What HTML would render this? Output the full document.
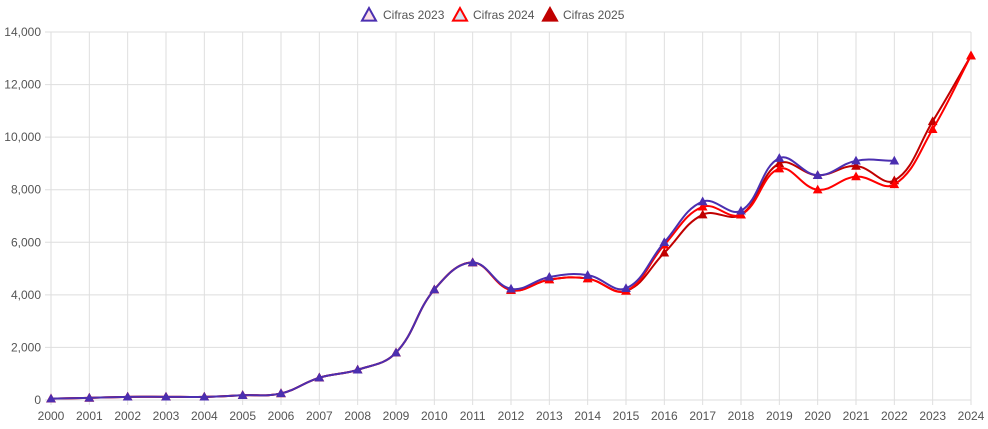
<!DOCTYPE html><html><head><style>body{margin:0;background:#fff}svg{display:block;font-family:"Liberation Sans",sans-serif}</style></head><body>
<svg id="s" width="988" height="429" xmlns="http://www.w3.org/2000/svg"></svg>
<script>
const s=document.getElementById('s');let h='';
const X=y=>51+(y-2000)*920/24,Y=v=>400-v*368/14000;
for(let i=0;i<=24;i++){const x=X(2000+i);h+=`<line x1="${x}" y1="32" x2="${x}" y2="405" stroke="#dedede"/><text x="${x}" y="420" font-size="12" fill="#555" text-anchor="middle">${2000+i}</text>`;}
for(let v=0;v<=14000;v+=2000){const y=Y(v);h+=`<line x1="45" y1="${y}" x2="971" y2="${y}" stroke="#dedede"/><text x="41" y="${y+4}" font-size="12" fill="#555" text-anchor="end">${v.toLocaleString('en-US')}</text>`;}
const base=[50,80,120,120,120,180,250,850,1150,1800,4200,5230];
const d23=base.concat([4230,4680,4750,4250,6000,7550,7200,9200,8550,9100,9100]);
const d24=base.concat([4180,4580,4620,4150,5900,7350,7050,8800,8000,8500,8200,10300,13100]);
const d25=base.concat([4180,4580,4620,4150,5600,7050,7050,9000,8550,8900,8350,10600,13100]);
function path(d){const p=d.map((v,i)=>[X(2000+i),Y(v)]);let s=`M${p[0]}`;const t=0.4;
const cp=[];for(let i=0;i<p.length;i++){const a=p[Math.max(0,i-1)],b=p[i],c=p[Math.min(p.length-1,i+1)];
const d01=Math.hypot(b[0]-a[0],b[1]-a[1]),d12=Math.hypot(c[0]-b[0],c[1]-b[1]);let fa=d01/(d01+d12)||0,fb=d12/(d01+d12)||0;fa*=t;fb*=t;
cp.push([[b[0]-fa*(c[0]-a[0]),b[1]-fa*(c[1]-a[1])],[b[0]+fb*(c[0]-a[0]),b[1]+fb*(c[1]-a[1])]]);}
for(let i=1;i<p.length;i++)s+=` C${cp[i-1][1]} ${cp[i][0]} ${p[i]}`;return [s,p];}
function tri(x,y,c,f,r,w){return `<polygon points="${x},${y-r} ${x-r},${y+r*0.8} ${x+r},${y+r*0.8}" fill="${f}" stroke="${c}" stroke-width="${w}"/>`;}
[[d25,'#c00000'],[d24,'#ff0000'],[d23,'#4b2fb0']].forEach(([d,c])=>{const [ps,p]=path(d);h+=`<path d="${ps}" fill="none" stroke="${c}" stroke-width="2"/>`;p.forEach(q=>h+=tri(q[0],q[1],c,c,4,1));});
h+=tri(369,15,'#4b2fb0','#fde0e6',7,2)+`<text x="383" y="19" font-size="12" fill="#555">Cifras 2023</text>`;
h+=tri(460,15,'#ff0000','#d6e4f0',7,2)+`<text x="473" y="19" font-size="12" fill="#555">Cifras 2024</text>`;
h+=tri(550,15,'#c00000','#c00000',7,2)+`<text x="563" y="19" font-size="12" fill="#555">Cifras 2025</text>`;
s.innerHTML=h;
</script></body></html>
